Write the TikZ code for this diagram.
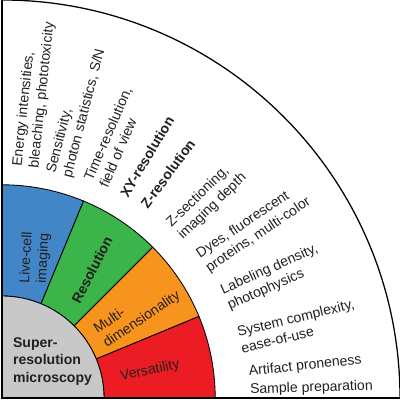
\documentclass[tikz,border=0pt]{standalone}
\usepackage{fontspec}
\setmainfont{Liberation Sans}
\usepackage{tikz}

\definecolor{livecell}{HTML}{4286C8}
\definecolor{resol}{HTML}{3BB54A}
\definecolor{multidim}{HTML}{F7941E}
\definecolor{versat}{HTML}{EC1C24}
\definecolor{core}{HTML}{C8C8C8}
\definecolor{ink}{HTML}{231F20}

\begin{document}
\begin{tikzpicture}[every node/.style={font=\fontsize{10}{12}\selectfont, text=ink, inner sep=0pt, align=left}]
  \useasboundingbox (-0.05,-0.05) rectangle (9.95,9.95);

  % Ring of four categories
  \filldraw[fill=livecell, line width=0.6pt] (90:2.55) -- (90:5.33) arc[start angle=90, end angle=67.5, radius=5.33] -- (67.5:2.55) arc[start angle=67.5, end angle=90, radius=2.55] -- cycle;
  \filldraw[fill=resol, line width=0.6pt] (67.5:2.55) -- (67.5:5.33) arc[start angle=67.5, end angle=45, radius=5.33] -- (45:2.55) arc[start angle=45, end angle=67.5, radius=2.55] -- cycle;
  \filldraw[fill=multidim, line width=0.6pt] (45:2.55) -- (45:5.33) arc[start angle=45, end angle=22.5, radius=5.33] -- (22.5:2.55) arc[start angle=22.5, end angle=45, radius=2.55] -- cycle;
  \filldraw[fill=versat, line width=0.6pt] (22.5:2.55) -- (22.5:5.33) arc[start angle=22.5, end angle=0, radius=5.33] -- (0:2.55) arc[start angle=0, end angle=22.5, radius=2.55] -- cycle;

  % Core
  \filldraw[fill=core, line width=0.6pt] (0,0) -- (2.55,0) arc[start angle=0, end angle=90, radius=2.55] -- cycle;
  \node[anchor=west, font=\fontsize{10}{12.4}\selectfont\bfseries] (srm) at (0.27,0.92) {Super-\\resolution\\microscopy};

  % Category labels
  \node[rotate=87, align=center] (live) at (0.83,3.5) {Live-cell\\imaging};
  \node[rotate=63, font=\fontsize{10}{12}\selectfont\bfseries] (res) at (2.25,3.2) {Resolution};
  \node[rotate=34] (multi) at (3.38,2.13) {Multi-\\dimensionality};
  \node[rotate=12] (vers) at (3.7,0.68) {Versatility};

  % Outer boundary and axes
  \draw[line width=0.9pt] (0,9.95) arc[start angle=90, end angle=0, radius=9.95];
  \draw[line width=1.5pt] (0,9.95) -- (0,0) -- (9.95,0);

  % Criteria
  \node[rotate=84, anchor=west] (energy) at (84:5.8) {Energy intensities,\\bleaching, phototoxicity};
  \node[rotate=75.5, anchor=west] (sens) at (75.5:5.75) {Sensitivity,\\photon statistics, S/N};
  \node[rotate=66.5, anchor=west] (time) at (66.5:5.85) {Time-resolution,\\field of view};
  \node[rotate=59, anchor=west, font=\fontsize{10}{12}\selectfont\bfseries] (xy) at (59:5.9) {XY-resolution};
  \node[rotate=53.5, anchor=west, font=\fontsize{10}{12}\selectfont\bfseries] (z) at (53.5:5.95) {Z-resolution};
  \node[rotate=44, anchor=west] (zsec) at (44:6.0) {Z-sectioning,\\imaging depth};
  \node[rotate=34, anchor=west] (dyes) at (34:6.05) {Dyes, fluorescent\\proteins, multi-color};
  \node[rotate=24, anchor=west] (label) at (24:6.1) {Labeling density,\\photophysics};
  \node[rotate=13.7, anchor=west] (sys) at (13.7:6.1) {System complexity,\\ease-of-use};
  \node[rotate=6, anchor=west] (artif) at (6:6.2) {Artifact proneness};
  \node[rotate=1.8, anchor=west] (sample) at (1.8:6.2) {Sample preparation};
\end{tikzpicture}
\end{document}
